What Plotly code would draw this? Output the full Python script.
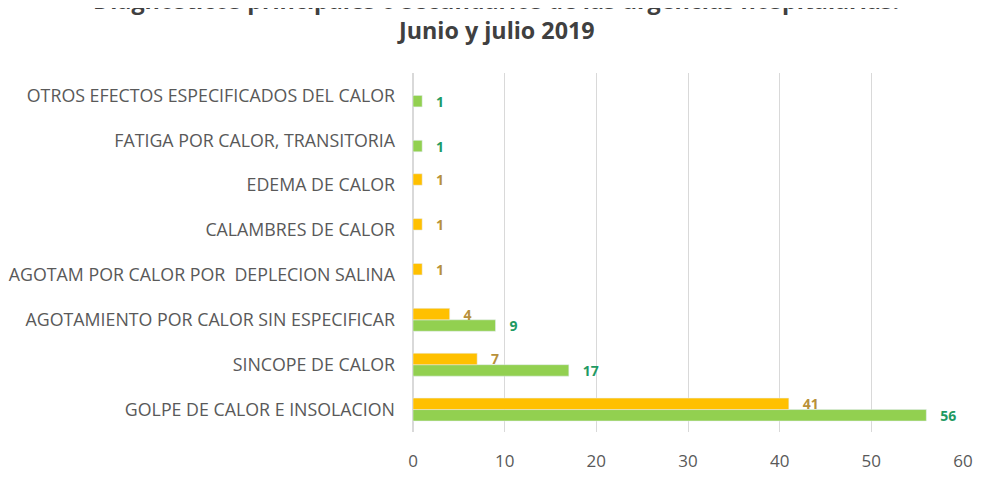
import plotly.graph_objects as go

categories = [
    "GOLPE DE CALOR E INSOLACION",
    "SINCOPE DE CALOR",
    "AGOTAMIENTO POR CALOR SIN ESPECIFICAR",
    "AGOTAM POR CALOR POR  DEPLECION SALINA",
    "CALAMBRES DE CALOR",
    "EDEMA DE CALOR",
    "FATIGA POR CALOR, TRANSITORIA",
    "OTROS EFECTOS ESPECIFICADOS DEL CALOR",
]
junio = [41, 7, 4, 1, 1, 1, None, None]
julio = [56, 17, 9, None, None, None, 1, 1]
x_ticks = [0, 10, 20, 30, 40, 50, 60]

title_line1 = "Diagnósticos principales o secundarios de las urgencias hospitalarias."
title_line2 = "Junio y julio 2019"

FONT = "Open Sans"
fig = go.Figure()
fig.add_trace(go.Bar(
    y=categories, x=julio, orientation="h", name="Julio",
    marker_color="#92D050",
    texttemplate="   <b>%{x}</b>", textposition="outside", cliponaxis=False,
    constraintext="none",
    textfont=dict(family=FONT, size=14, color="#1F9A63"),
))
fig.add_trace(go.Bar(
    y=categories, x=junio, orientation="h", name="Junio",
    marker_color="#FFC000",
    texttemplate="   <b>%{x}</b>", textposition="outside", cliponaxis=False,
    constraintext="none",
    textfont=dict(family=FONT, size=14, color="#B8913A"),
))

fig.update_layout(
    width=982, height=483,
    margin=dict(l=405, r=27, t=65, b=59, autoexpand=False),
    paper_bgcolor="white", plot_bgcolor="white",
    barmode="group", bargap=0.49, bargroupgap=0,
    showlegend=False,
    font=dict(family=FONT, color="#595959"),
    xaxis=dict(range=[0, 60], tickvals=x_ticks, showgrid=True, gridcolor="#D9D9D9",
               gridwidth=1, zeroline=True, zerolinecolor="#D9D9D9", automargin=False,
               tickfont=dict(family=FONT, size=17, color="#595959"), ticks="",
               ticklabelstandoff=17),
    yaxis=dict(categoryorder="array", categoryarray=categories, automargin=False,
               tickfont=dict(family=FONT, size=17.8, color="#595959"), ticks="",
               ticklabelstandoff=17),
    annotations=[
        dict(text="<b>" + title_line1 + "</b>", xref="paper", yref="paper",
             x=0.151, y=1.2045, xanchor="center", yanchor="middle", showarrow=False,
             font=dict(family=FONT, size=23.3, color="#404040")),
        dict(text="<b>" + title_line2 + "</b>", xref="paper", yref="paper",
             x=0.151, y=1.1198, xanchor="center", yanchor="middle", showarrow=False,
             font=dict(family=FONT, size=23.3, color="#404040")),
    ],
)
fig.write_html("out.html")
